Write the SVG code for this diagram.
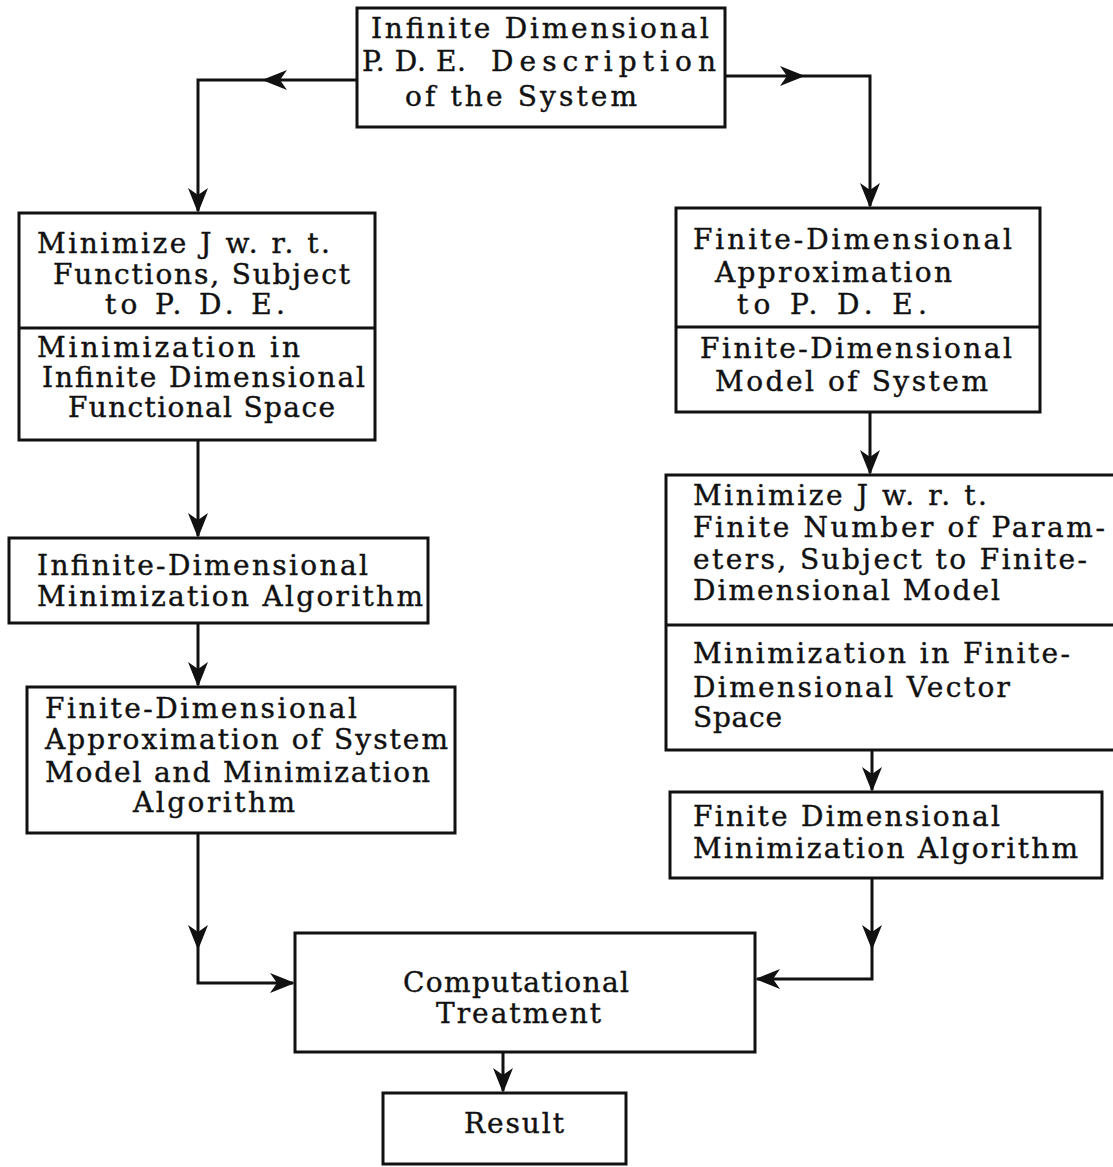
<svg xmlns="http://www.w3.org/2000/svg" xmlns:xlink="http://www.w3.org/1999/xlink" width="1113" height="1167" viewBox="0 0 1113 1167">
<style>
.box{fill:#fff;stroke:#111;stroke-width:3}
.div{stroke:#111;stroke-width:3;fill:none}
.conn{stroke:#111;stroke-width:3;fill:none}
.ah{fill:#111}
text{font-family:"DejaVu Serif","Liberation Serif",serif;font-size:28px;fill:#111;stroke:#111;stroke-width:0.4}
</style>
<defs>
<path id="ah" class="ah" d="M0,0 L-25,-10 L-18,0 L-25,10 Z"/>
</defs>
<rect width="1113" height="1167" fill="#fff"/>
<g id="connectors">
<path class="conn" d="M357,80 H198 V211"/>
<path class="conn" d="M725,76 H870 V206"/>
<path class="conn" d="M198,440 V536"/>
<path class="conn" d="M198,623 V685"/>
<path class="conn" d="M870,412 V473"/>
<path class="conn" d="M872,750 V790"/>
<path class="conn" d="M198,833 V983 H293"/>
<path class="conn" d="M872,878 V979 H757"/>
<path class="conn" d="M503,1052 V1091"/>
<use xlink:href="#ah" transform="translate(262,80) rotate(180)"/>
<use xlink:href="#ah" transform="translate(198,213) rotate(90)"/>
<use xlink:href="#ah" transform="translate(805,76)"/>
<use xlink:href="#ah" transform="translate(870,208) rotate(90)"/>
<use xlink:href="#ah" transform="translate(198,538) rotate(90)"/>
<use xlink:href="#ah" transform="translate(198,687) rotate(90)"/>
<use xlink:href="#ah" transform="translate(870,475) rotate(90)"/>
<use xlink:href="#ah" transform="translate(872,792) rotate(90)"/>
<use xlink:href="#ah" transform="translate(198,950) rotate(90)"/>
<use xlink:href="#ah" transform="translate(295,983)"/>
<use xlink:href="#ah" transform="translate(872,950) rotate(90)"/>
<use xlink:href="#ah" transform="translate(755,979) rotate(180)"/>
<use xlink:href="#ah" transform="translate(503,1093) rotate(90)"/>
</g>
<g id="n-top">
<rect class="box" x="357" y="8" width="368" height="119"/>
<text x="371" y="38" textLength="338" lengthAdjust="spacing">Infinite Dimensional</text>
<text y="71"><tspan x="362" textLength="104" lengthAdjust="spacing">P. D. E.</tspan><tspan x="491" textLength="225" lengthAdjust="spacing">Description</tspan></text>
<text x="405" y="106" textLength="232" lengthAdjust="spacing">of the System</text>
</g>
<g id="n-l1">
<rect class="box" x="19" y="213" width="356" height="227"/>
<line class="div" x1="19" y1="328" x2="375" y2="328"/>
<text x="37" y="253" textLength="293" lengthAdjust="spacing">Minimize J w. r. t.</text>
<text x="53" y="284" textLength="297" lengthAdjust="spacing">Functions, Subject</text>
<text x="105" y="314" textLength="180" lengthAdjust="spacing">to P. D. E.</text>
<text x="37" y="357" textLength="263" lengthAdjust="spacing">Minimization in</text>
<text x="42" y="387" textLength="323" lengthAdjust="spacing">Infinite Dimensional</text>
<text x="68" y="417" textLength="267" lengthAdjust="spacing">Functional Space</text>
</g>
<g id="n-r1">
<rect class="box" x="676" y="208" width="364" height="204"/>
<line class="div" x1="676" y1="327" x2="1040" y2="327"/>
<text x="693" y="249" textLength="319" lengthAdjust="spacing">Finite-Dimensional</text>
<text x="715" y="282" textLength="237" lengthAdjust="spacing">Approximation</text>
<text x="737" y="314" textLength="190" lengthAdjust="spacing">to P. D. E.</text>
<text x="700" y="358" textLength="312" lengthAdjust="spacing">Finite-Dimensional</text>
<text x="715" y="391" textLength="273" lengthAdjust="spacing">Model of System</text>
</g>
<g id="n-r2">
<rect class="box" x="666" y="475" width="470" height="275"/>
<line class="div" x1="666" y1="625" x2="1136" y2="625"/>
<text x="693" y="505" textLength="294" lengthAdjust="spacing">Minimize J w. r. t.</text>
<text x="693" y="537" textLength="412" lengthAdjust="spacing">Finite Number of Param-</text>
<text x="693" y="569" textLength="394" lengthAdjust="spacing">eters, Subject to Finite-</text>
<text x="693" y="600" textLength="307" lengthAdjust="spacing">Dimensional Model</text>
<text x="693" y="663" textLength="377" lengthAdjust="spacing">Minimization in Finite-</text>
<text x="693" y="697" textLength="317" lengthAdjust="spacing">Dimensional Vector</text>
<text x="693" y="727" textLength="89" lengthAdjust="spacing">Space</text>
</g>
<g id="n-r3">
<rect class="box" x="670" y="792" width="432" height="86"/>
<text x="693" y="826" textLength="307" lengthAdjust="spacing">Finite Dimensional</text>
<text x="693" y="858" textLength="385" lengthAdjust="spacing">Minimization Algorithm</text>
</g>
<g id="n-l2">
<rect class="box" x="9" y="538" width="419" height="85"/>
<text x="37" y="575" textLength="331" lengthAdjust="spacing">Infinite-Dimensional</text>
<text x="37" y="606" textLength="386" lengthAdjust="spacing">Minimization Algorithm</text>
</g>
<g id="n-l3">
<rect class="box" x="27" y="687" width="428" height="146"/>
<text x="45" y="718" textLength="312" lengthAdjust="spacing">Finite-Dimensional</text>
<text x="45" y="749" textLength="403" lengthAdjust="spacing">Approximation of System</text>
<text x="45" y="782" textLength="385" lengthAdjust="spacing">Model and Minimization</text>
<text x="133" y="812" textLength="162" lengthAdjust="spacing">Algorithm</text>
</g>
<g id="n-comp">
<rect class="box" x="295" y="933" width="460" height="119"/>
<text x="403" y="992" textLength="226" lengthAdjust="spacing">Computational</text>
<text x="436" y="1023" textLength="165" lengthAdjust="spacing">Treatment</text>
</g>
<g id="n-res">
<rect class="box" x="383" y="1093" width="243" height="71"/>
<text x="464" y="1133" textLength="100" lengthAdjust="spacing">Result</text>
</g>
</svg>
